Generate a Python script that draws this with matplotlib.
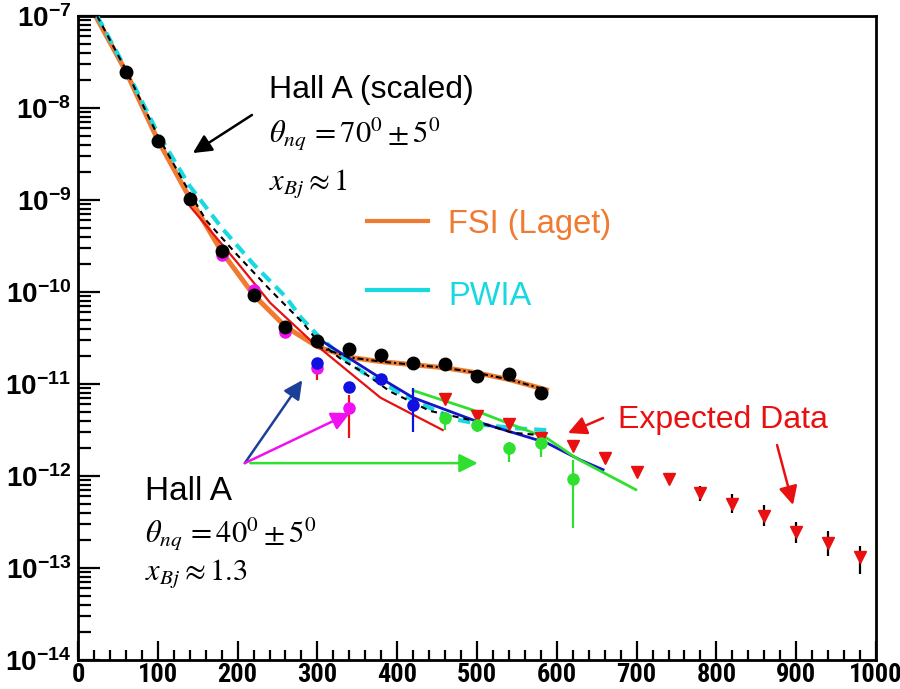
import numpy as np
import matplotlib
matplotlib.use("Agg")
import matplotlib.pyplot as plt
from matplotlib.ticker import LogLocator, MultipleLocator, NullFormatter

plt.rcParams["font.family"] = ["Liberation Sans", "DejaVu Sans"]
plt.rcParams["mathtext.fontset"] = "custom"
plt.rcParams["mathtext.rm"] = "Liberation Sans:bold"
plt.rcParams["mathtext.bf"] = "Liberation Sans:bold"

ORANGE = "#f07a30"
CYAN = "#19d9e0"
RED = "#e81010"
GREEN = "#30e030"
BLUE = "#1515c8"
NAVY = "#1c3f9a"
MAGENTA = "#f010f0"

# Hall A (scaled), theta_nq = 70 +- 5 deg, x_Bj ~ 1
p70 = np.array([60, 100, 140, 180, 220, 260, 300, 340, 380, 420, 460, 500, 540, 580])
sig70 = np.array([2.46e-8, 4.38e-9, 1.03e-9, 2.79e-10, 9.3e-11, 4.17e-11, 2.93e-11,
                  2.4e-11, 2.07e-11, 1.69e-11, 1.65e-11, 1.22e-11, 1.29e-11, 7.98e-12])

# Hall A, theta_nq = 40 +- 5 deg, x_Bj ~ 1.3 (three kinematic settings)
p_mag = np.array([180, 220, 260, 300, 340])
sig_mag = np.array([2.52e-10, 1.05e-10, 3.67e-11, 1.49e-11, 5.5e-12])
lo_mag = np.array([2.52e-10, 1.05e-10, 3.67e-11, 1.1e-11, 2.6e-12])
hi_mag = np.array([2.52e-10, 1.05e-10, 3.67e-11, 1.49e-11, 7.6e-12])

p_blue = np.array([300, 340, 380, 420])
sig_blue = np.array([1.69e-11, 9.3e-12, 1.13e-11, 5.9e-12])
lo_blue = np.array([1.69e-11, 9.3e-12, 1.13e-11, 3.0e-12])
hi_blue = np.array([1.69e-11, 9.3e-12, 1.13e-11, 9.1e-12])

p_green = np.array([460, 500, 540, 580, 620])
sig_green = np.array([4.27e-12, 3.58e-12, 2.01e-12, 2.29e-12, 9.3e-13])
lo_green = np.array([3.16e-12, 3.0e-12, 1.42e-12, 1.6e-12, 2.72e-13])
hi_green = np.array([4.97e-12, 3.9e-12, 2.34e-12, 2.6e-12, 1.49e-12])

# expected data
p_exp = np.array([460, 500, 540, 580, 620, 660, 700, 740, 780, 820, 860, 900, 940, 980])
sig_exp = np.array([6.8e-12, 4.5e-12, 3.7e-12, 2.6e-12, 2.1e-12, 1.55e-12, 1.1e-12,
                    9.3e-13, 6.5e-13, 5.0e-13, 3.7e-13, 2.45e-13, 1.86e-13, 1.32e-13])
lo_exp = np.array([6.8e-12, 4.5e-12, 3.7e-12, 2.6e-12, 2.1e-12, 1.55e-12, 1.1e-12,
                   8.3e-13, 5.4e-13, 4.0e-13, 2.85e-13, 1.85e-13, 1.35e-13, 8.7e-14])
hi_exp = np.array([6.8e-12, 4.5e-12, 3.7e-12, 2.6e-12, 2.1e-12, 1.55e-12, 1.1e-12,
                   1.04e-12, 7.8e-13, 6.3e-13, 4.8e-13, 3.2e-13, 2.5e-13, 1.74e-13])

# calculations
p_fsi = np.array([22, 60, 100, 140, 180, 220, 260, 300, 340, 380, 420, 460, 500, 540, 590])
fsi = np.array([1.0e-7, 2.5e-8, 4.5e-9, 1.05e-9, 2.75e-10, 9.3e-11, 4.2e-11, 2.55e-11,
                1.95e-11, 1.75e-11, 1.62e-11, 1.5e-11, 1.32e-11, 1.12e-11, 8.5e-12])

p_pwia = np.array([24, 60, 100, 140, 180, 220, 260, 280, 300, 320, 340, 360, 382, 425,
                   475, 507, 550, 587])
pwia = np.array([1.0e-7, 2.65e-8, 5.3e-9, 1.42e-9, 5.0e-10, 2.0e-10, 8.9e-11, 5.2e-11,
                 3.4e-11, 2.4e-11, 1.7e-11, 1.29e-11, 1.02e-11, 6.3e-12, 4.1e-12, 3.6e-12,
                 3.3e-12, 3.15e-12])

p_dash = np.array([24, 60, 100, 140, 160, 200, 241, 282, 300, 332, 357, 391, 441, 495, 545, 575])
dash = np.array([1.0e-7, 2.6e-8, 5.0e-9, 1.2e-9, 6.1e-10, 2.5e-10, 1.05e-10, 4.6e-11,
                 2.95e-11, 1.8e-11, 1.35e-11, 8.3e-12, 5.1e-12, 4.0e-12, 2.95e-12, 2.8e-12])

p_red = np.array([141, 200, 241, 291, 341, 379, 425, 457])
red_curve = np.array([8.4e-10, 2.07e-10, 7.6e-11, 3.0e-11, 1.32e-11, 7.1e-12, 4.4e-12, 3.16e-12])

p_bluec = np.array([304, 379, 420, 504, 587, 629, 658])
blue_curve = np.array([3.0e-11, 1.16e-11, 7.1e-12, 3.8e-12, 2.3e-12, 1.5e-12, 1.17e-12])

p_greenc = np.array([420, 504, 587, 625, 699])
green_curve = np.array([8.5e-12, 4.9e-12, 2.6e-12, 1.55e-12, 7.1e-13])

fig = plt.figure(figsize=(9, 6.89), dpi=100)
ax = fig.add_axes([78 / 900, 1 - 660 / 689, 798 / 900, 644 / 689])
ax.set_yscale("log")
ax.set_xlim(0, 1000)
ax.set_ylim(1e-14, 1e-7)

# theory curves
ax.plot(p_fsi, fsi, color=ORANGE, lw=3.6, solid_capstyle="butt", zorder=2)
ax.plot(p_pwia, pwia, color=CYAN, lw=3, dashes=(2.9, 1.7), zorder=3)
ax.plot(p_dash, dash, color="black", lw=1.5, dashes=(2.9, 2.4), zorder=4)
sel = p_fsi >= 300
ax.plot(p_fsi[sel], fsi[sel], color="black", lw=1.5, dashes=(2.9, 1.4, 1, 1.4), zorder=4)
ax.plot(p_red, red_curve, color=RED, lw=1.6, zorder=3)
ax.plot(p_bluec, blue_curve, color=BLUE, lw=2, zorder=3)
ax.plot(p_greenc, green_curve, color=GREEN, lw=2, zorder=3)

# data
ax.errorbar(p_exp, sig_exp, yerr=[sig_exp - lo_exp, hi_exp - sig_exp], fmt="none",
            ecolor="black", elinewidth=1.6, zorder=5)
ax.plot(p_exp, sig_exp, "v", color=RED, ms=9, mec=RED, zorder=6)
ax.errorbar(p_mag, sig_mag, yerr=[sig_mag - lo_mag, hi_mag - sig_mag], fmt="o", ms=8,
            color=MAGENTA, ecolor=RED, elinewidth=1.6, zorder=6)
ax.errorbar(p_blue, sig_blue, yerr=[sig_blue - lo_blue, hi_blue - sig_blue], fmt="o", ms=8,
            color="#1010e0", ecolor="#1010e0", elinewidth=1.6, zorder=6)
ax.errorbar(p_green, sig_green, yerr=[sig_green - lo_green, hi_green - sig_green], fmt="o",
            ms=8, color=GREEN, ecolor=GREEN, elinewidth=1.6, zorder=6)
ax.plot(p70, sig70, "o", color="black", ms=9, zorder=7)

# axes style
for s in ax.spines.values():
    s.set_linewidth(2)
ax.set_yticks([10.0 ** e for e in range(-14, -6)])
ax.set_yticklabels([r"$\mathbf{10^{%d}}$" % e for e in range(-14, -6)])
ax.yaxis.set_minor_locator(LogLocator(base=10, subs=np.arange(2, 10), numticks=100))
ax.yaxis.set_minor_formatter(NullFormatter())
ax.xaxis.set_major_locator(MultipleLocator(100))
ax.xaxis.set_minor_locator(MultipleLocator(20))
ax.tick_params(which="both", direction="in", top=False, right=False, width=1.6)
ax.tick_params(axis="y", which="major", length=16, pad=5, labelsize=20)
ax.tick_params(axis="y", which="minor", length=9)
ax.tick_params(axis="x", which="major", length=14, pad=2, labelsize=19)
ax.tick_params(axis="x", which="minor", length=7)
for t in ax.get_xticklabels():
    t.set_family(["Roboto Condensed", "DejaVu Sans"])
    t.set_stretch("condensed")
    t.set_fontweight("bold")

# annotations
tr = ax.transAxes
ax.text(0.2393, 0.8727, "Hall A (scaled)", transform=tr, fontsize=23, va="baseline")
ax.text(0.2393, 0.8028, r"$\theta_{nq}\, = 70^{0} \pm 5^{0}$", transform=tr, fontsize=22,
        va="baseline", math_fontfamily="stix")
ax.text(0.2393, 0.7298, r"$x_{Bj} \approx 1$", transform=tr, fontsize=22,
        va="baseline", math_fontfamily="stix")

ax.plot([0.3622, 0.4386], [0.6817, 0.6817], transform=tr, color=ORANGE, lw=3)
ax.text(0.4637, 0.663, "FSI (Laget)", transform=tr, fontsize=23.5, color=ORANGE, va="baseline")
ax.plot([0.3622, 0.4386], [0.5745, 0.5745], transform=tr, color=CYAN, lw=3)
ax.text(0.4637, 0.5512, "PWIA", transform=tr, fontsize=23.5, color=CYAN, va="baseline")

ax.text(0.6767, 0.3602, "Expected Data", transform=tr, fontsize=23, color=RED, va="baseline")

ax.text(0.084, 0.2484, "Hall A", transform=tr, fontsize=24, va="baseline")
ax.text(0.084, 0.1817, r"$\theta_{nq}\, = 40^{0} \pm 5^{0}$", transform=tr, fontsize=22,
        va="baseline", math_fontfamily="stix")
ax.text(0.084, 0.1242, r"$x_{Bj} \approx 1.3$", transform=tr, fontsize=22,
        va="baseline", math_fontfamily="stix")


def arrow(x0, y0, x1, y1, color):
    ax.annotate("", xy=(x1, y1), xytext=(x0, y0),
                arrowprops=dict(arrowstyle="-|>", color=color, lw=1.8,
                                mutation_scale=28, shrinkA=0, shrinkB=0), zorder=8)


arrow(218, 8.4e-9, 144, 3.24e-9, "black")
arrow(209, 1.38e-12, 281, 1.1e-11, NAVY)
arrow(209, 1.38e-12, 341, 4.84e-12, MAGENTA)
arrow(216, 1.38e-12, 501, 1.38e-12, GREEN)
arrow(658, 4.27e-12, 614, 2.93e-12, RED)
arrow(876, 2.17e-12, 896, 4.84e-13, RED)

fig.savefig("out.png", dpi=100)
